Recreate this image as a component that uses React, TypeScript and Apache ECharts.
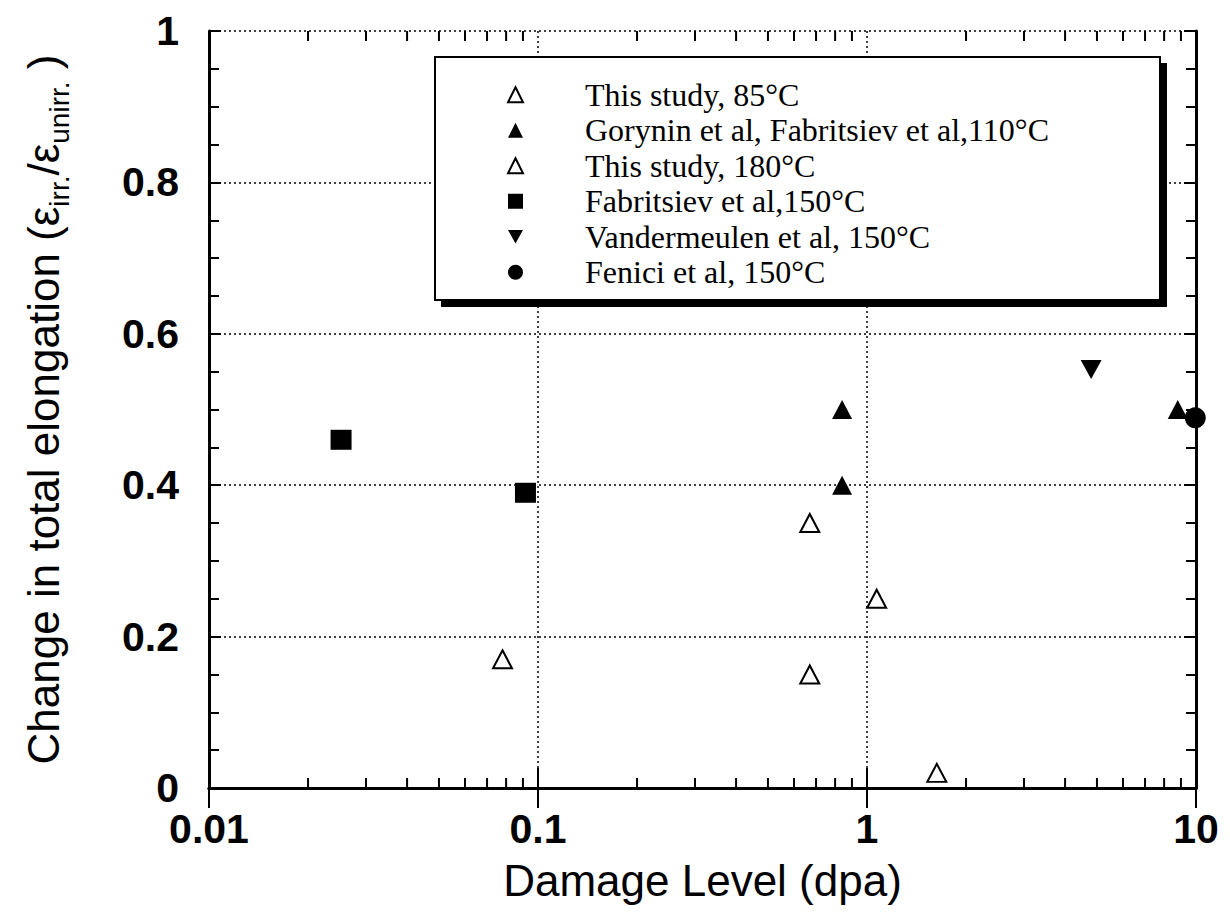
import React, { useEffect, useRef } from 'react';
import * as echarts from 'echarts';

// ---- data (x: damage level in dpa, y: change in total elongation) ----
const thisStudy85: number[][] = [
  [0.078, 0.17],
  [0.67, 0.35],
  [1.07, 0.25],
];
const gorynin110: number[][] = [
  [0.84, 0.5],
  [0.84, 0.4],
  [8.8, 0.5],
];
const thisStudy180: number[][] = [
  [0.67, 0.15],
  [1.63, 0.02],
];
const fabritsiev150: number[][] = [
  [0.0252, 0.46],
  [0.0916, 0.39],
];
const vandermeulen150: number[][] = [[4.8, 0.553]];
const fenici150: number[][] = [[9.95, 0.489]];

const seriesNames = [
  'This study, 85°C',
  'Gorynin et al, Fabritsiev et al,110°C',
  'This study, 180°C',
  'Fabritsiev et al,150°C',
  'Vandermeulen et al, 150°C',
  'Fenici et al, 150°C',
];

const xTickLabels = ['0.01', '0.1', '1', '10'];
const yTickLabels = ['0', '0.2', '0.4', '0.6', '0.8', '1'];
const minorTicksX = [
  0.02, 0.03, 0.04, 0.05, 0.06, 0.07, 0.08, 0.09,
  0.2, 0.3, 0.4, 0.5, 0.6, 0.7, 0.8, 0.9,
  2, 3, 4, 5, 6, 7, 8, 9,
];

const SANS = '"Liberation Sans", Arial, Helvetica, sans-serif';
const SERIF = '"Liberation Serif", "Times New Roman", serif';
const DOWN_TRI = 'path://M0 0L20 0L10 18Z';

export default function App() {
  const ref = useRef<HTMLDivElement>(null);

  useEffect(() => {
    if (!ref.current) return;
    const chart = echarts.init(ref.current, null, { renderer: 'svg' });

    const axisLine = { show: true, lineStyle: { color: '#000', width: 3 } };
    const scatterBase = (name: string, data: number[][], symbol: string, size: any, filled: boolean, extra: any = {}) => ({
      type: 'scatter',
      name,
      data,
      symbol,
      symbolSize: size,
      xAxisIndex: 0,
      yAxisIndex: 0,
      z: 5,
      itemStyle: filled
        ? { color: '#000', borderColor: '#000', borderWidth: 0, opacity: 1 }
        : { color: '#fff', borderColor: '#000', borderWidth: 2, opacity: 1 },
      ...extra,
    });

    const option: any = {
      animation: false,
      backgroundColor: '#fff',
      grid: { left: 209, top: 31, right: 34, bottom: 135, containLabel: false },
      xAxis: [
        {
          type: 'log',
          logBase: 10,
          min: 0.01,
          max: 10,
          position: 'bottom',
          axisLine,
          axisTick: { show: true, inside: true, length: 20, lineStyle: { color: '#000', width: 2 } },
          minorTick: { show: false },
          splitLine: { show: true, lineStyle: { color: '#000', width: 1.5, type: [2, 3] } },
          axisLabel: {
            show: true,
            margin: 20,
            color: '#000',
            fontFamily: SANS,
            fontWeight: 'bold',
            fontSize: 41,
            formatter: (v: number) => xTickLabels[Math.round(Math.log10(v)) + 2] ?? '',
          },
          name: 'Damage Level (dpa)',
          nameLocation: 'middle',
          nameGap: 70,
          nameTextStyle: { color: '#000', fontFamily: SANS, fontSize: 44 },
        },
        {
          type: 'log',
          logBase: 10,
          min: 0.01,
          max: 10,
          position: 'top',
          axisLine,
          axisTick: { show: true, inside: true, length: 20, lineStyle: { color: '#000', width: 2 } },
          axisLabel: { show: false },
          splitLine: { show: false },
        },
      ],
      yAxis: [
        {
          type: 'value',
          min: 0,
          max: 1,
          interval: 0.2,
          position: 'left',
          axisLine,
          axisTick: { show: true, inside: true, length: 12, lineStyle: { color: '#000', width: 2 } },
          minorTick: { show: true, splitNumber: 4, length: 10, lineStyle: { color: '#000', width: 2 } },
          splitLine: { show: true, lineStyle: { color: '#000', width: 1.5, type: [2, 3] } },
          axisLabel: {
            show: true,
            margin: 30,
            color: '#000',
            fontFamily: SANS,
            fontWeight: 'bold',
            fontSize: 41,
            formatter: (v: number) => yTickLabels[Math.round(v / 0.2)] ?? '',
          },
          name: '{n|Change in total elongation (ε}{s|irr.}{n|/ε}{s|unirr.}{n| )}',
          nameLocation: 'middle',
          nameGap: 142,
          nameTextStyle: {
            color: '#000',
            fontFamily: SANS,
            fontSize: 44,
            rich: {
              n: { fontFamily: SANS, fontSize: 44, color: '#000', lineHeight: 46, verticalAlign: 'top' },
              s: { fontFamily: SANS, fontSize: 28, color: '#000', lineHeight: 30, verticalAlign: 'top', padding: [24, 0, 0, 0] },
            },
          },
        },
        {
          type: 'value',
          min: 0,
          max: 1,
          interval: 0.2,
          position: 'right',
          axisLine,
          axisTick: { show: true, inside: true, length: 12, lineStyle: { color: '#000', width: 2 } },
          minorTick: { show: true, splitNumber: 4, length: 10, lineStyle: { color: '#000', width: 2 } },
          splitLine: { show: false },
          axisLabel: { show: false },
        },
      ],
      legend: {
        show: true,
        orient: 'vertical',
        left: 507,
        top: 77,
        padding: 0,
        itemGap: 0,
        itemWidth: 15,
        itemHeight: 15,
        z: 10,
        data: seriesNames,
        textStyle: {
          color: '#000',
          fontFamily: SERIF,
          fontSize: 32,
          lineHeight: 35.5,
          padding: [0, 0, 0, 57],
        },
        selectedMode: false,
      },
      graphic: [
        { type: 'rect', z: 8, shape: { x: 441, y: 63, width: 726, height: 244 }, style: { fill: '#000' } },
        { type: 'rect', z: 9, shape: { x: 435, y: 57, width: 725, height: 243 }, style: { fill: '#fff', stroke: '#000', lineWidth: 2 } },
      ],
      series: [
        scatterBase(seriesNames[0], thisStudy85, 'triangle', [19, 18], false),
        scatterBase(seriesNames[1], gorynin110, 'triangle', [20, 19], true),
        scatterBase(seriesNames[2], thisStudy180, 'triangle', [19, 18], false),
        scatterBase(seriesNames[3], fabritsiev150, 'rect', [21, 20], true),
        scatterBase(seriesNames[4], vandermeulen150, DOWN_TRI, [21, 19], true),
        scatterBase(seriesNames[5], fenici150, 'circle', 21, true),
        {
          type: 'custom',
          name: 'minorTicksX',
          silent: true,
          xAxisIndex: 0,
          yAxisIndex: 0,
          z: 4,
          data: minorTicksX.map((v) => [v, 0]),
          renderItem: (_params: any, api: any) => {
            const v = api.value(0);
            const b = api.coord([v, 0]);
            const t = api.coord([v, 1]);
            const st = { stroke: '#000', lineWidth: 2 };
            return {
              type: 'group',
              children: [
                { type: 'line', shape: { x1: b[0], y1: b[1], x2: b[0], y2: b[1] - 10 }, style: st },
                { type: 'line', shape: { x1: t[0], y1: t[1], x2: t[0], y2: t[1] + 10 }, style: st },
              ],
            };
          },
        },
      ],
    };

    chart.setOption(option);
    return () => chart.dispose();
  }, []);

  return (
    <div
      ref={ref}
      style={{ position: 'fixed', left: 0, top: 0, width: 1230, height: 923, background: '#fff' }}
    />
  );
}
